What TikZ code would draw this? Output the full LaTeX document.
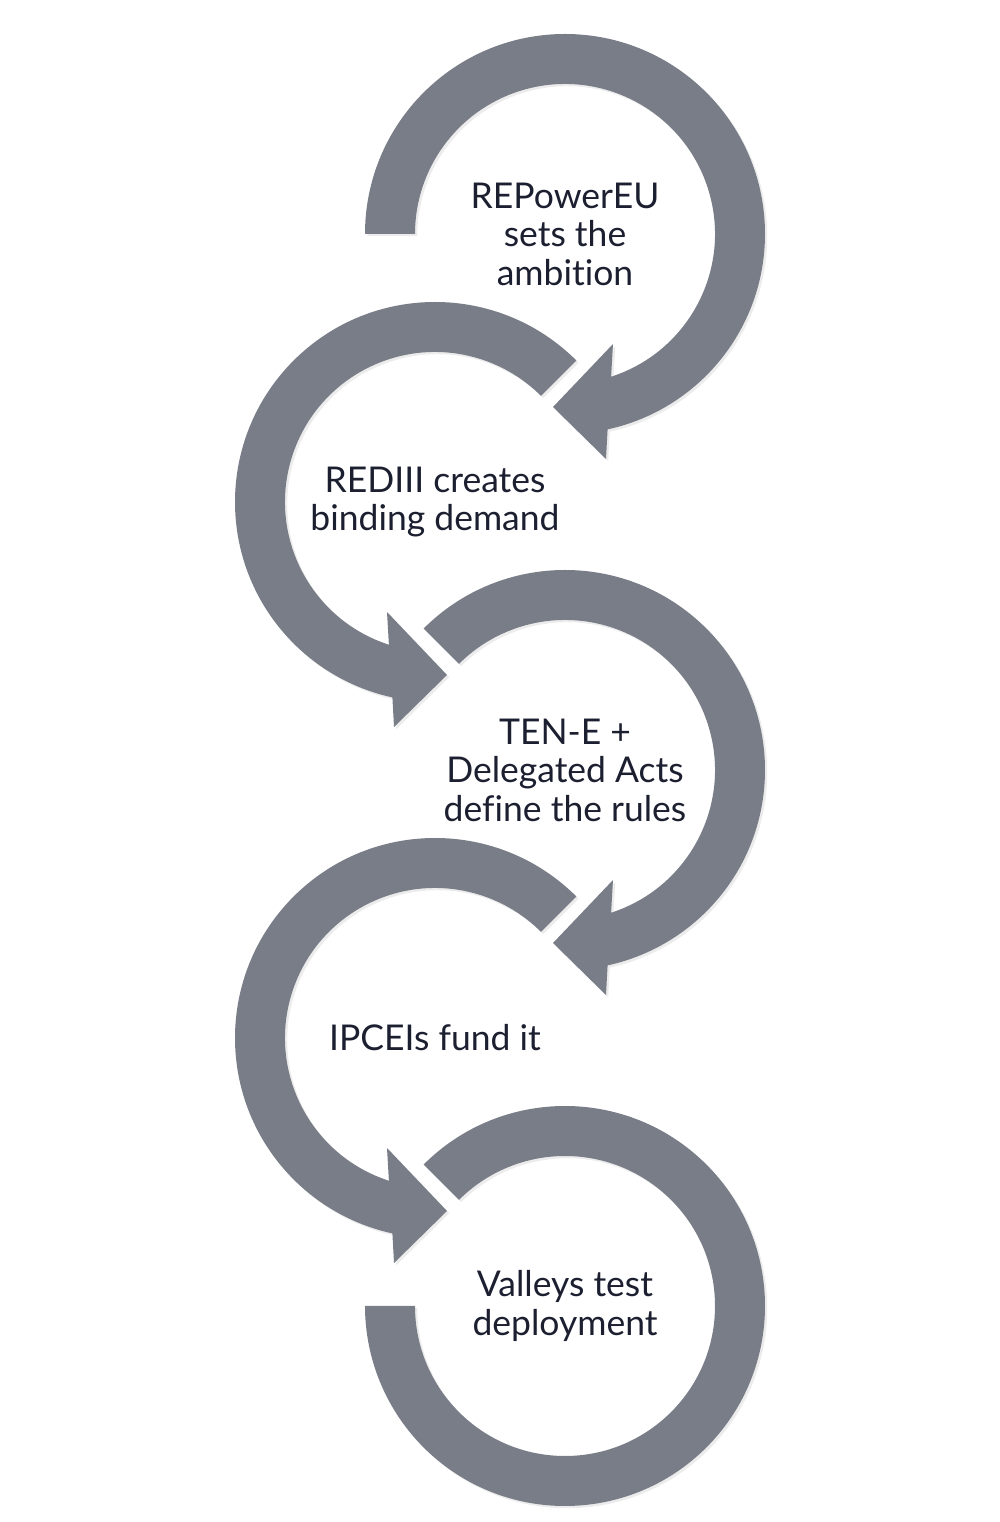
\documentclass[tikz,border=0pt]{standalone}
\usepackage{fontspec}
\setmainfont{Lato}[Ligatures=NoCommon]
\usetikzlibrary{shadows}
\definecolor{ringgrey}{RGB}{121,125,136}
\definecolor{textnavy}{RGB}{28,31,48}

\begin{document}
\begin{tikzpicture}[
    ring/.style={fill=ringgrey, drop shadow={shadow xshift=0.45mm, shadow yshift=-0.45mm, opacity=0.15}},
    steptext/.style={align=center, text=textnavy, font=\fontsize{20.2}{21.9}\selectfont}
  ]
  \useasboundingbox (0,0) rectangle (20,30.44);

  % Tâm các vòng
  \coordinate (c1) at (11.3,25.76);
  \coordinate (c2) at (8.7,20.40);
  \coordinate (c3) at (11.3,15.04);
  \coordinate (c4) at (8.7,9.68);
  \coordinate (c5) at (11.3,4.32);

  % Vòng 1 (theo chiều kim đồng hồ)
  \fill[ring, shift={(c1)}] (180:4) arc[start angle=180, end angle=-77.7, radius=4]
    -- (0.82,-4.5) -- (-0.24,-3.46) -- (0.96,-2.2)
    -- (-72.1:3) arc[start angle=-72.1, end angle=180, radius=3] -- cycle;

  % Vòng 2 (ngược chiều kim đồng hồ)
  \fill[ring, shift={(c2)}] (45:4) arc[start angle=45, end angle=257.7, radius=4]
    -- (-0.82,-4.5) -- (0.24,-3.46) -- (-0.96,-2.2)
    -- (252.1:3) arc[start angle=252.1, end angle=45, radius=3] -- cycle;

  % Vòng 3
  \fill[ring, shift={(c3)}] (135:4) arc[start angle=135, end angle=-77.7, radius=4]
    -- (0.82,-4.5) -- (-0.24,-3.46) -- (0.96,-2.2)
    -- (-72.1:3) arc[start angle=-72.1, end angle=135, radius=3] -- cycle;

  % Vòng 4
  \fill[ring, shift={(c4)}] (45:4) arc[start angle=45, end angle=257.7, radius=4]
    -- (-0.82,-4.5) -- (0.24,-3.46) -- (-0.96,-2.2)
    -- (252.1:3) arc[start angle=252.1, end angle=45, radius=3] -- cycle;

  % Vòng 5 (không có mũi tên)
  \fill[ring, shift={(c5)}] (135:4) arc[start angle=135, end angle=-180, radius=4]
    -- (-180:3) arc[start angle=-180, end angle=135, radius=3] -- cycle;

  % Nhãn
  \node[steptext] (ambition) at (c1) {REPowerEU\\sets the\\ambition};
  \node[steptext] (demand) at (c2) {REDIII creates\\binding demand};
  \node[steptext] (rules) at (c3) {TEN-E +\\Delegated Acts\\define the rules};
  \node[steptext] (fund) at (c4) {IPCEIs fund it};
  \node[steptext] (deploy) at (c5) {Valleys test\\deployment};
\end{tikzpicture}
\end{document}
